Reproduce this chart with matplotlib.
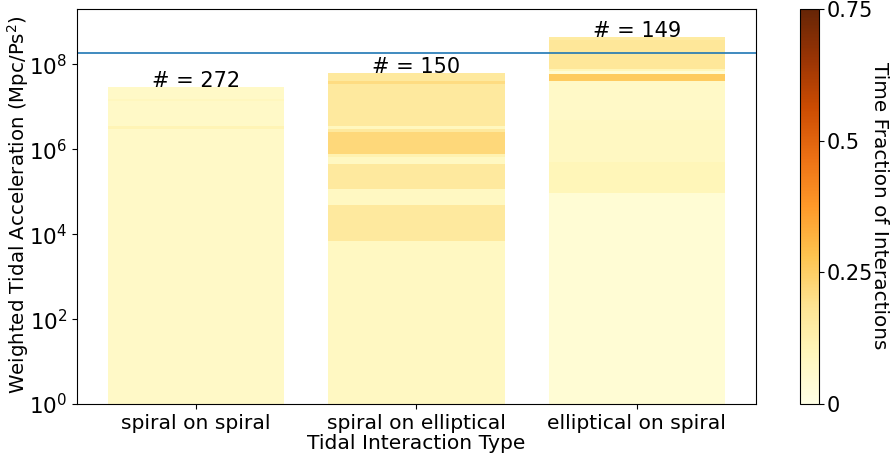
import numpy as np
import matplotlib
matplotlib.use("Agg")
import matplotlib.pyplot as plt
from matplotlib import colors, cm, ticker

types = ['spiral on spiral', 'spiral on elliptical', 'elliptical on spiral']
counts = [272, 150, 149]

# upper edge of every band (bottom to top) and the time fraction inside it
edges_ss = [3.0e6, 3.5e6, 1.4e7, 1.5e7, 3.0e7]
frac_ss = [0.07, 0.11, 0.07, 0.09, 0.07]

edges_se = [6.8e3, 4.9e4, 1.15e5, 4.6e5, 6.4e5, 7.6e5, 2.6e6, 2.95e6, 3.5e6, 3.4e7, 4.0e7, 6.3e7]
frac_se = [0.08, 0.16, 0.08, 0.16, 0.08, 0.12, 0.22, 0.16, 0.09, 0.16, 0.21, 0.16]

edges_es = [9.1e4, 5.0e5, 4.8e6, 4.1e7, 5.9e7, 6.9e7, 7.8e7, 3.7e8, 4.4e8]
frac_es = [0.04, 0.10, 0.08, 0.07, 0.26, 0.04, 0.10, 0.17, 0.15]

threshold = 1.8e8

all_edges = [edges_ss, edges_se, edges_es]
all_frac = [frac_ss, frac_se, frac_es]

cmap = plt.get_cmap('YlOrBr')
norm = colors.Normalize(vmin=0, vmax=0.75)

fig = plt.figure(figsize=(8.91, 4.54), dpi=100)
ax = fig.add_axes([0.0864, 0.110, 0.762, 0.870])
cax = fig.add_axes([0.898, 0.110, 0.0213, 0.870])

x = np.arange(len(types))
for i in range(len(types)):
    bottom = 1
    for top, f in zip(all_edges[i], all_frac[i]):
        ax.bar(x[i], top - bottom, bottom=bottom, width=0.8, color=cmap(norm(f)))
        bottom = top
    ax.text(x[i], all_edges[i][-1], '# = %d' % counts[i], ha='center', va='baseline', fontsize=15)

ax.axhline(threshold, color='C0', lw=1.2)
ax.set_yscale('log')
ax.set_ylim(1, 2e9)
ax.yaxis.set_major_locator(ticker.FixedLocator([1e0, 1e2, 1e4, 1e6, 1e8]))
ax.yaxis.set_minor_locator(ticker.NullLocator())
ax.set_xticks(x)
ax.set_xticklabels(types, fontsize=14.6)
ax.tick_params(axis='y', labelsize=15.5)
ax.set_xlabel('Tidal Interaction Type', fontsize=14.6, labelpad=1)
ax.set_ylabel('Weighted Tidal Acceleration (Mpc/Ps$^2$)', fontsize=14.2)
ax.yaxis.set_label_coords(-0.068, 0.505)

sm = cm.ScalarMappable(norm=norm, cmap=cmap)
cb = fig.colorbar(sm, cax=cax)
cb.set_ticks([0, 0.25, 0.5, 0.75])
cb.set_ticklabels(['0', '0.25', '0.5', '0.75'])
cb.ax.tick_params(labelsize=15, pad=2)
fig.text(879 / 891, 0.546, 'Time Fraction of Interactions', fontsize=14.4,
         rotation=270, ha='center', va='center')

fig.savefig('out.png', dpi=100)
